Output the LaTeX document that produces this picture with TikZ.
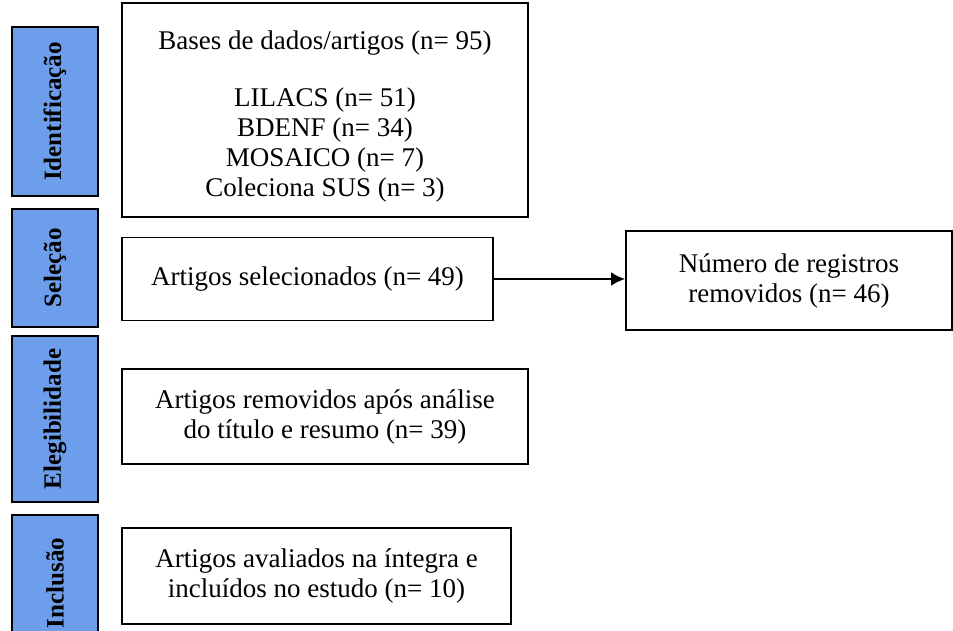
\documentclass[tikz,border=0pt]{standalone}
\usepackage{fontspec}
\setmainfont{Liberation Serif}
\usetikzlibrary{calc,arrows.meta}
\definecolor{etapaazul}{RGB}{109,158,235}

\begin{document}
\begin{tikzpicture}[x=1pt,y=-1pt,
    etapa/.style={draw,line width=1.8pt,fill=etapaazul,rotate=90,minimum height=86pt,inner sep=0pt,font=\fontsize{25}{30}\selectfont\bfseries},
    caixa/.style={draw,line width=1.8pt,align=center,inner sep=0pt,font=\fontsize{27}{30}\selectfont}]
    \clip (0,0) rectangle (953,631);
    \fill[white] (0,0) rectangle (953,631);

    \node[etapa,minimum width=169pt] (id) at (55,111.5) {Identificação};
    \node[etapa,minimum width=118pt] (sel) at (55,268) {Seleção};
    \node[etapa,minimum width=166pt] (eleg) at (55,419) {Elegibilidade};
    \node[etapa,minimum width=136pt] (incl) at (55,583) {Inclusão};

    \node[caixa,minimum width=406pt,minimum height=214pt] (bases) at (325,110) {};
    \node[caixa,draw=none] (basestxt) at (325,117)
        {Bases de dados/artigos (n= 95)\\[27pt] LILACS (n= 51)\\ BDENF (n= 34)\\ MOSAICO (n= 7)\\ Coleciona SUS (n= 3)};
    \node[caixa,minimum width=371pt,minimum height=83pt] (selart) at (307.5,279) {Artigos selecionados (n= 49)};
    \node[caixa,minimum width=326pt,minimum height=99pt] (rem) at (789,280.5) {Número de registros\\ removidos (n= 46)};
    \node[caixa,minimum width=406pt,minimum height=95pt] (eleart) at (325,416.5) {Artigos removidos após análise\\ do título e resumo (n= 39)};
    \node[caixa,minimum width=389pt,minimum height=96pt] (inclart) at (316.5,576) {Artigos avaliados na íntegra e\\ incluídos no estudo (n= 10)};

    \draw[line width=2.4pt,-{Latex[length=14pt,width=14pt]}] (selart.east) -- (selart.east -| rem.west);
\end{tikzpicture}
\end{document}
